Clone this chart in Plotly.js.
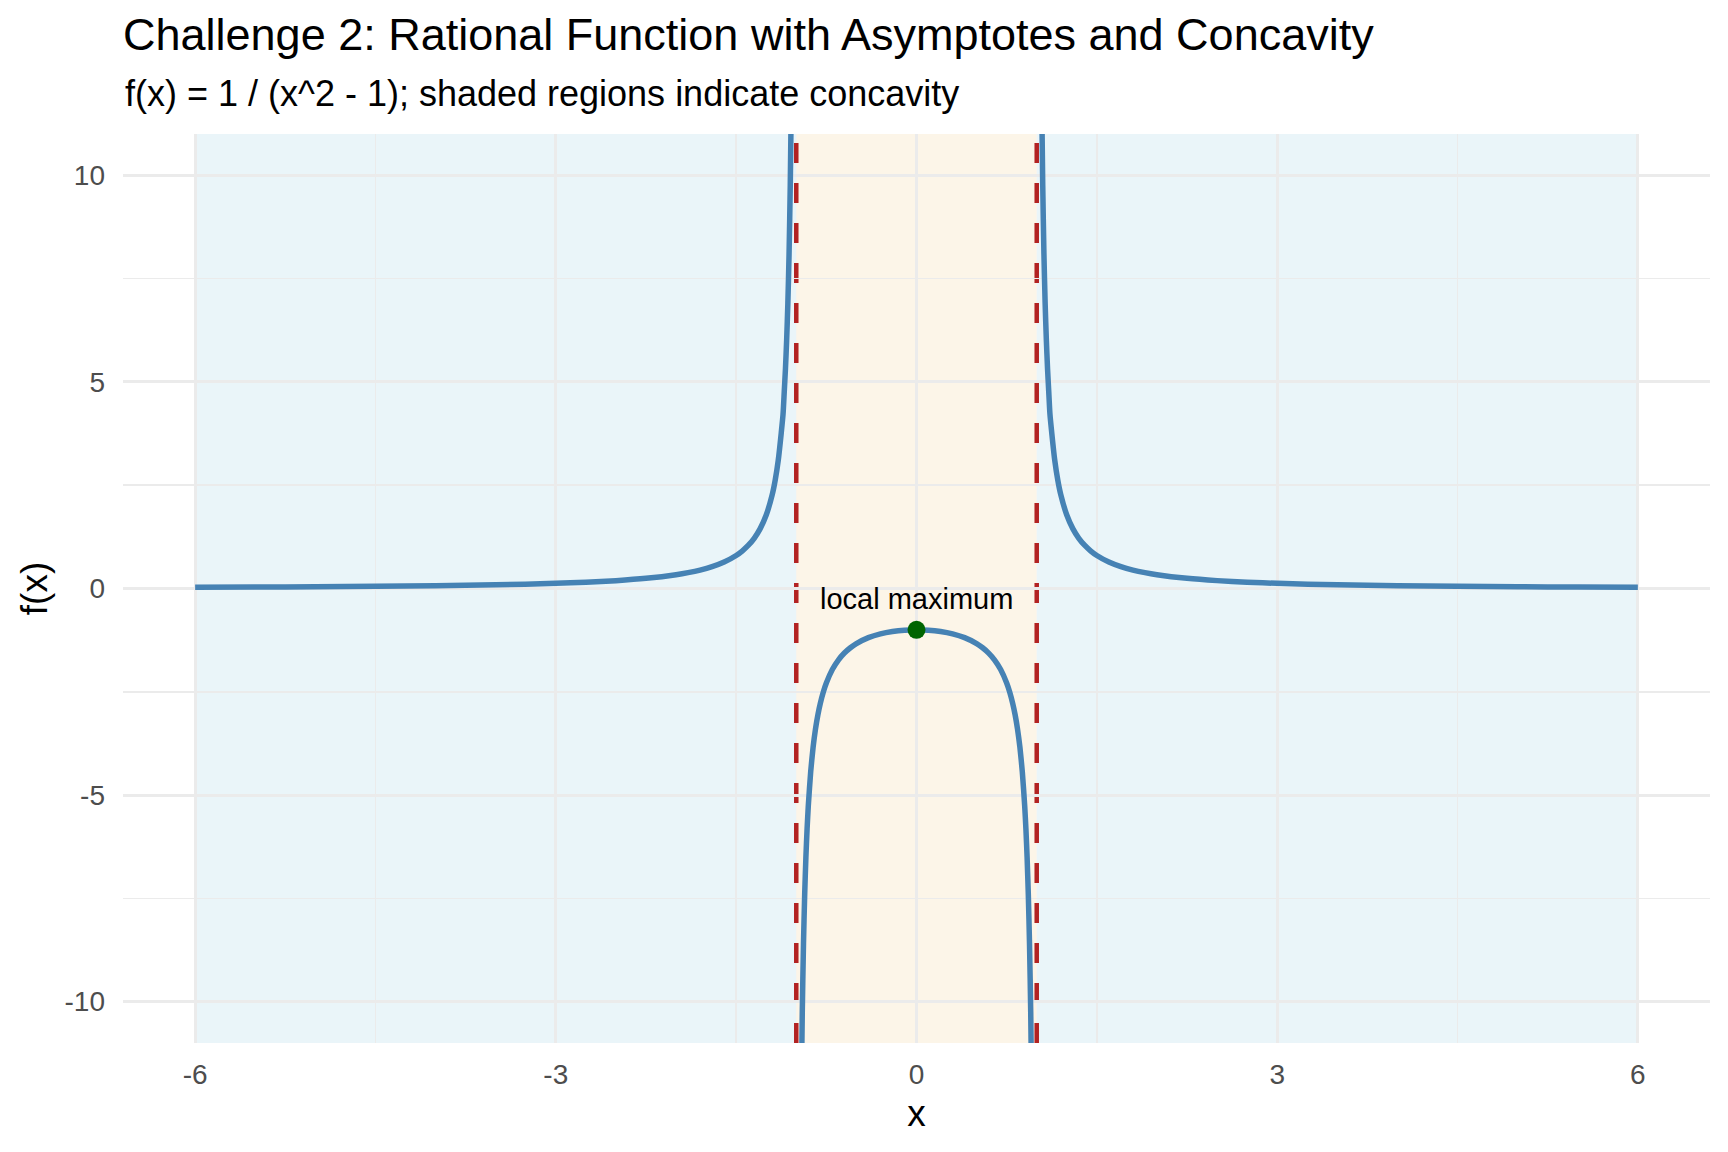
<!DOCTYPE html>
<html>
<head>
<meta charset="utf-8">
<script src="https://cdn.plot.ly/plotly-3.0.1.min.js"></script>
<style>
  html, body { margin: 0; padding: 0; background: #fff; }
  #chart { width: 1728px; height: 1152px; }
</style>
</head>
<body>
<div id="chart"></div>
<script>
// values
var xLeft = [-6, -5.5, -5, -4.5, -4, -3.5, -3, -2.75, -2.5, -2.25, -2, -1.9, -1.8, -1.7, -1.6, -1.5, -1.45, -1.4, -1.35, -1.3,
    -1.25, -1.2, -1.175, -1.15, -1.125, -1.11, -1.1, -1.09, -1.08, -1.07, -1.06, -1.05, -1.04, -1.03, -1.02]
var yLeft = [0.0286, 0.0342, 0.0417, 0.0519, 0.0667, 0.0889, 0.125, 0.1524, 0.1905, 0.2462, 0.3333, 0.3831, 0.4464, 0.5291, 0.641, 0.8, 0.907, 1.0417, 1.2158, 1.4493,
    1.7778, 2.2727, 2.6273, 3.1008, 3.7647, 4.2194, 4.7619, 5.3163, 6.0096, 6.9013, 8.0906, 9.7561, 12.2549, 16.4204, 24.7525]

var xMid = [-0.97, -0.96, -0.95, -0.94, -0.93, -0.92, -0.91, -0.9, -0.88, -0.86, -0.84, -0.82, -0.8, -0.775, -0.75, -0.7, -0.65, -0.6, -0.55, -0.5, -0.4, -0.3, -0.2, -0.1,
    0, 0.1, 0.2, 0.3, 0.4, 0.5, 0.55, 0.6, 0.65, 0.7, 0.75, 0.775, 0.8, 0.82, 0.84, 0.86, 0.88, 0.9, 0.91, 0.92, 0.93, 0.94, 0.95, 0.96, 0.97]
var yMid = [-16.92, -12.755, -10.256, -8.591, -7.402, -6.51, -5.817, -5.263, -4.433, -3.84, -3.397, -3.053, -2.778, -2.504, -2.286, -1.961, -1.732, -1.5625, -1.434, -1.333, -1.19, -1.099, -1.042, -1.01,
    -1, -1.01, -1.042, -1.099, -1.19, -1.333, -1.434, -1.5625, -1.732, -1.961, -2.286, -2.504, -2.778, -3.053, -3.397, -3.84, -4.433, -5.263, -5.817, -6.51, -7.402, -8.591, -10.256, -12.755, -16.92]

var xRight = [1.02, 1.03, 1.04, 1.05, 1.06, 1.07, 1.08, 1.09, 1.1, 1.11, 1.125, 1.15, 1.175, 1.2, 1.25, 1.3, 1.35, 1.4, 1.45, 1.5, 1.6,
    1.7, 1.8, 1.9, 2, 2.25, 2.5, 2.75, 3, 3.5, 4, 4.5, 5, 5.5, 6]
var yRight = [24.7525, 16.4204, 12.2549, 9.7561, 8.0906, 6.9013, 6.0096, 5.3163, 4.7619, 4.2194, 3.7647, 3.1008, 2.6273, 2.2727, 1.7778, 1.4493, 1.2158, 1.0417, 0.907, 0.8, 0.641,
    0.5291, 0.4464, 0.3831, 0.3333, 0.2462, 0.1905, 0.1524, 0.125, 0.0889, 0.0667, 0.0519, 0.0417, 0.0342, 0.0286]

var maxX = [0], maxY = [-1]
var maxLabel = 'local maximum'

var asymptotes = [-1, 1]
var regionStart = [-6, -1, 1]
var regionEnd = [-1, 1, 6]
var regionFill = ['rgba(173,216,230,0.25)', 'rgba(245,222,179,0.3)', 'rgba(173,216,230,0.25)']

var xTicks = [-6, -3, 0, 3, 6]
var xTickText = ['-6', '-3', '0', '3', '6']
var yTicks = [-10, -5, 0, 5, 10]
var yTickText = ['-10', '-5', '0', '5', '10']

var font = 'Liberation Sans, Arial, sans-serif'

var shapes = []
regionStart.forEach((x0, i) => {
    shapes.push({
        type: 'rect', xref: 'x', yref: 'paper', x0: x0, x1: regionEnd[i], y0: 0, y1: 1,
        fillcolor: regionFill[i], line: {width: 0}, layer: 'between'
    })
})
asymptotes.forEach(a => {
    shapes.push({
        type: 'line', xref: 'x', yref: 'paper', x0: a, x1: a, y0: 0, y1: 1,
        line: {color: '#B22222', width: 4.5, dash: '20px,20px'}, layer: 'between'
    })
})

var curveLine = {color: '#4682B4', width: 5.5, shape: 'spline', smoothing: 0.6}
var data = [
    {x: xLeft, y: yLeft, type: 'scatter', mode: 'lines', line: curveLine, hoverinfo: 'skip'},
    {x: xMid, y: yMid, type: 'scatter', mode: 'lines', line: curveLine, hoverinfo: 'skip'},
    {x: xRight, y: yRight, type: 'scatter', mode: 'lines', line: curveLine, hoverinfo: 'skip'},
    {x: maxX, y: maxY, type: 'scatter', mode: 'markers', marker: {color: '#006400', size: 18}, hoverinfo: 'skip'}
]

var layout = {
    width: 1728,
    height: 1152,
    showlegend: false,
    paper_bgcolor: '#fff',
    plot_bgcolor: '#fff',
    font: {family: font, color: '#000'},
    margin: {l: 123, r: 18, t: 134, b: 109},
    title: {
        text: 'Challenge 2: Rational Function with Asymptotes and Concavity',
        font: {family: font, size: 45, color: '#000'},
        xref: 'paper', x: 0, xanchor: 'left',
        yref: 'container', y: 1 - 50 / 1152, yanchor: 'bottom'
    },
    xaxis: {
        range: [-6.6, 6.6],
        tickvals: xTicks, ticktext: xTickText,
        showgrid: true, gridcolor: '#ebebeb', gridwidth: 3,
        minor: {dtick: 1.5, tick0: 0, showgrid: true, gridcolor: '#ebebeb', gridwidth: 1.5},
        zeroline: false, showline: false, ticks: '',
        ticklabelstandoff: 12,
        tickfont: {family: font, size: 28, color: '#4d4d4d'},
        title: {text: 'x', standoff: 11, font: {family: font, size: 37, color: '#000'}}
    },
    yaxis: {
        range: [-11, 11],
        tickvals: yTicks, ticktext: yTickText,
        showgrid: true, gridcolor: '#ebebeb', gridwidth: 3,
        minor: {dtick: 2.5, tick0: 0, showgrid: true, gridcolor: '#ebebeb', gridwidth: 1.5},
        zeroline: false, showline: false, ticks: '',
        ticklabelstandoff: 17,
        tickfont: {family: font, size: 28, color: '#4d4d4d'},
        title: {text: 'f(x)', standoff: 5, font: {family: font, size: 37, color: '#000'}}
    },
    shapes: shapes,
    annotations: [
        {
            text: 'f(x) = 1 / (x^2 - 1); shaded regions indicate concavity',
            xref: 'paper', yref: 'paper', x: 0, y: 1 + 18 / 909, xanchor: 'left', yanchor: 'bottom',
            showarrow: false, font: {family: font, size: 36, color: '#000'}
        },
        {
            text: maxLabel, xref: 'x', yref: 'y', x: maxX[0], y: maxY[0] + 0.75,
            xanchor: 'center', yanchor: 'middle', showarrow: false,
            font: {family: font, size: 29, color: '#000'}
        }
    ]
}

Plotly.newPlot('chart', data, layout, {displayModeBar: false, staticPlot: true})
</script>
</body>
</html>
